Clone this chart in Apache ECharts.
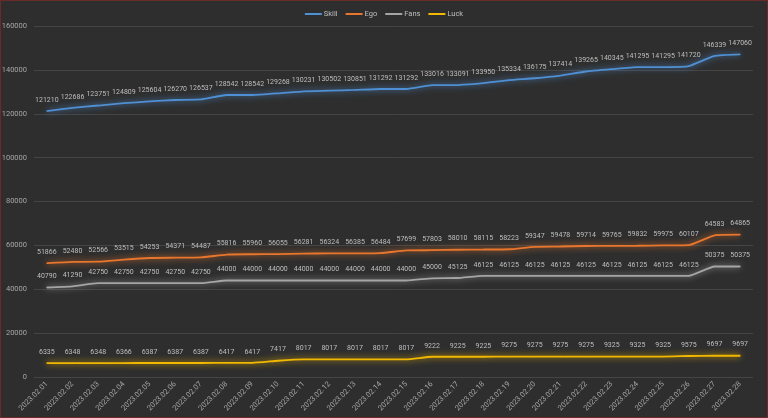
<!DOCTYPE html>
<html>
<head>
<meta charset="utf-8">
<script src="https://cdn.jsdelivr.net/npm/echarts@6/dist/echarts.min.js"></script>
<style>
html,body{margin:0;padding:0;background:#2e2e2e;}
#wrap{width:768px;height:418px;box-sizing:border-box;border:1px solid #6a2a2a;background:#2e2e2e;}
#chart{width:766px;height:416px;}
</style>
</head>
<body>
<div id="wrap"><div id="chart"></div></div>
<script>
const categories = ["2023.02.01","2023.02.02","2023.02.03","2023.02.04","2023.02.05","2023.02.06","2023.02.07","2023.02.08","2023.02.09","2023.02.10","2023.02.11","2023.02.12","2023.02.13","2023.02.14","2023.02.15","2023.02.16","2023.02.17","2023.02.18","2023.02.19","2023.02.20","2023.02.21","2023.02.22","2023.02.23","2023.02.24","2023.02.25","2023.02.26","2023.02.27","2023.02.28"];
const skill = [121210,122686,123751,124809,125604,126270,126537,128542,128542,129268,130231,130502,130851,131292,131292,133016,133091,133950,135334,136175,137414,139265,140345,141295,141295,141720,146339,147060];
const ego = [51866,52480,52566,53515,54253,54371,54487,55816,55960,56055,56281,56324,56385,56484,57699,57803,58010,58115,58223,59347,59478,59714,59765,59832,59975,60107,64583,64865];
const fans = [40790,41290,42750,42750,42750,42750,42750,44000,44000,44000,44000,44000,44000,44000,44000,45000,45125,46125,46125,46125,46125,46125,46125,46125,46125,46125,50375,50375];
const luck = [6335,6348,6348,6366,6387,6387,6387,6417,6417,7417,8017,8017,8017,8017,8017,9222,9225,9225,9275,9275,9275,9275,9325,9325,9325,9575,9697,9697];
const seriesNames = ["Skill","Ego","Fans","Luck"];
const seriesColors = ["#4f8fd3","#e8762d","#a5a5a5","#f2b800"];
const seriesData = [skill, ego, fans, luck];
const yTicks = {min:0, max:160000, interval:20000};

const FONT = "Roboto";
const chart = echarts.init(document.getElementById('chart'));
chart.setOption({
  backgroundColor: '#2e2e2e',
  animation: false,
  textStyle: {fontFamily: FONT},
  legend: {
    top: 4, left: 'center',
    itemWidth: 17, itemHeight: 2, itemGap: 8,
    icon: 'rect',
    textStyle: {color: '#bfbfbf', fontSize: 7.5, fontFamily: FONT, padding: [0,0,0,-3]},
    data: seriesNames.map((n, i) => ({name: n, itemStyle: {color: seriesColors[i], opacity: 1}}))
  },
  grid: {left: 33, right: 14, top: 25, bottom: 40, containLabel: false, outerBoundsMode: 'none'},
  xAxis: {
    type: 'category', data: categories, boundaryGap: true,
    axisLine: {show: false}, axisTick: {show: false},
    axisLabel: {rotate: 45, color: '#a6a6a6', fontSize: 7.5, fontFamily: FONT, margin: 6, interval: 0}
  },
  yAxis: {
    type: 'value', min: yTicks.min, max: yTicks.max, interval: yTicks.interval,
    axisLine: {show: false}, axisTick: {show: false},
    axisLabel: {color: '#a6a6a6', fontSize: 7.5, fontFamily: FONT, margin: 7, formatter: v => String(v)},
    splitLine: {lineStyle: {color: '#454545', width: 1}}
  },
  series: seriesNames.map((n, i) => ({
    name: n, type: 'line', data: seriesData[i],
    color: seriesColors[i],
    smooth: 0.15, symbol: 'circle', symbolSize: 1, showSymbol: true,
    itemStyle: {color: seriesColors[i]},
    lineStyle: {width: 1.8, color: seriesColors[i], shadowColor: seriesColors[i], shadowBlur: 6},
    label: {show: true, position: 'top', distance: 7, color: '#bfbfbf', fontSize: 7, fontFamily: FONT, formatter: p => String(p.value)},
    labelLayout: {hideOverlap: false}
  }))
});
</script>
</body>
</html>
